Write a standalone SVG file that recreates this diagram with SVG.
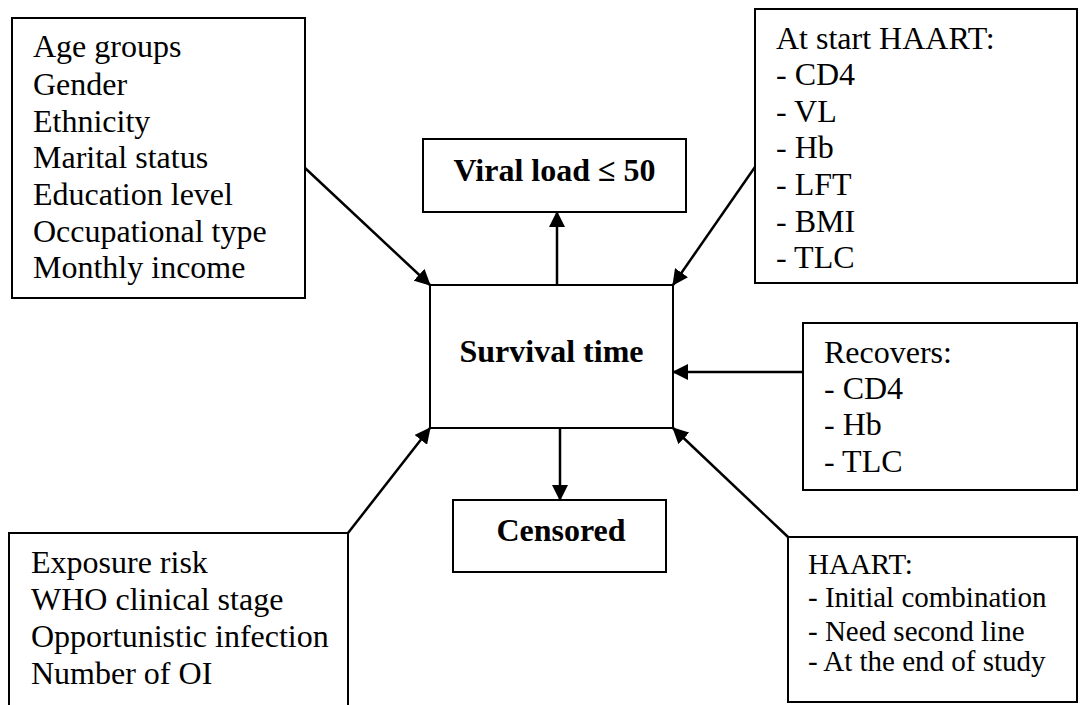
<svg xmlns="http://www.w3.org/2000/svg" width="1080" height="705" viewBox="0 0 1080 705">
  <style>
    .box { fill: #ffffff; stroke: #000000; stroke-width: 2; }
    .txt { font-family: "Liberation Serif", "Times New Roman", serif; font-size: 32px; fill: #000000; }
    .sm { font-size: 29px; }
    .bold { font-weight: bold; text-anchor: middle; }
    .edge { stroke: #000000; stroke-width: 2.5; fill: none; marker-end: url(#arrow); }
  </style>
  <defs>
    <marker id="arrow" markerUnits="userSpaceOnUse" markerWidth="16" markerHeight="16" refX="15" refY="8" orient="auto">
      <path d="M0,0 L16,8 L0,16 Z" fill="#000000"/>
    </marker>
  </defs>
  <rect width="1080" height="705" fill="#ffffff"/>

  <!-- connectors -->
  <g id="connectors">
    <line class="edge" x1="305" y1="168" x2="430" y2="285"/>
    <line class="edge" x1="755" y1="167" x2="673" y2="285"/>
    <line class="edge" x1="557" y1="285" x2="557" y2="212"/>
    <line class="edge" x1="803" y1="372" x2="673" y2="372"/>
    <line class="edge" x1="560" y1="428" x2="560" y2="500"/>
    <line class="edge" x1="348" y1="533" x2="430" y2="428"/>
    <line class="edge" x1="788" y1="537" x2="673" y2="428"/>
  </g>

  <!-- demographic factors -->
  <g id="demographics">
    <rect class="box" x="12" y="18" width="293" height="280"/>
    <text class="txt" x="33" y="57">Age groups</text>
    <text class="txt" x="33" y="95">Gender</text>
    <text class="txt" x="33" y="132">Ethnicity</text>
    <text class="txt" x="33" y="168">Marital status</text>
    <text class="txt" x="33" y="205">Education level</text>
    <text class="txt" x="33" y="242">Occupational type</text>
    <text class="txt" x="33" y="278">Monthly income</text>
  </g>

  <!-- baseline lab values -->
  <g id="baseline">
    <rect class="box" x="755" y="9" width="322" height="274"/>
    <text class="txt" x="776" y="49">At start HAART:</text>
    <text class="txt" x="776" y="85">- CD4</text>
    <text class="txt" x="776" y="122">- VL</text>
    <text class="txt" x="776" y="158">- Hb</text>
    <text class="txt" x="776" y="195">- LFT</text>
    <text class="txt" x="776" y="232">- BMI</text>
    <text class="txt" x="776" y="268">- TLC</text>
  </g>

  <!-- outcome: suppression -->
  <g id="viral-load">
    <rect class="box" x="423" y="139" width="263" height="73"/>
    <text class="txt bold" x="554.5" y="181">Viral load ≤ 50</text>
  </g>

  <!-- central outcome -->
  <g id="survival">
    <rect class="box" x="430" y="285" width="243" height="143"/>
    <text class="txt bold" x="551.5" y="362">Survival time</text>
  </g>

  <!-- recovery measures -->
  <g id="recovers">
    <rect class="box" x="803" y="323" width="274" height="167"/>
    <text class="txt" x="824" y="363">Recovers:</text>
    <text class="txt" x="824" y="399">- CD4</text>
    <text class="txt" x="824" y="435">- Hb</text>
    <text class="txt" x="824" y="472">- TLC</text>
  </g>

  <!-- outcome: censored -->
  <g id="censored">
    <rect class="box" x="453" y="500" width="213" height="72"/>
    <text class="txt bold" x="561" y="541">Censored</text>
  </g>

  <!-- clinical factors -->
  <g id="clinical">
    <rect class="box" x="9" y="533" width="339" height="190"/>
    <text class="txt" x="31" y="573">Exposure risk</text>
    <text class="txt" x="31" y="610">WHO clinical stage</text>
    <text class="txt" x="31" y="647">Opportunistic infection</text>
    <text class="txt" x="31" y="684">Number of OI</text>
  </g>

  <!-- treatment regimen -->
  <g id="haart">
    <rect class="box" x="788" y="537" width="289" height="165"/>
    <text class="txt sm" x="808" y="574">HAART:</text>
    <text class="txt sm" x="808" y="607">- Initial combination</text>
    <text class="txt sm" x="808" y="641">- Need second line</text>
    <text class="txt sm" x="808" y="671">- At the end of study</text>
  </g>
</svg>
